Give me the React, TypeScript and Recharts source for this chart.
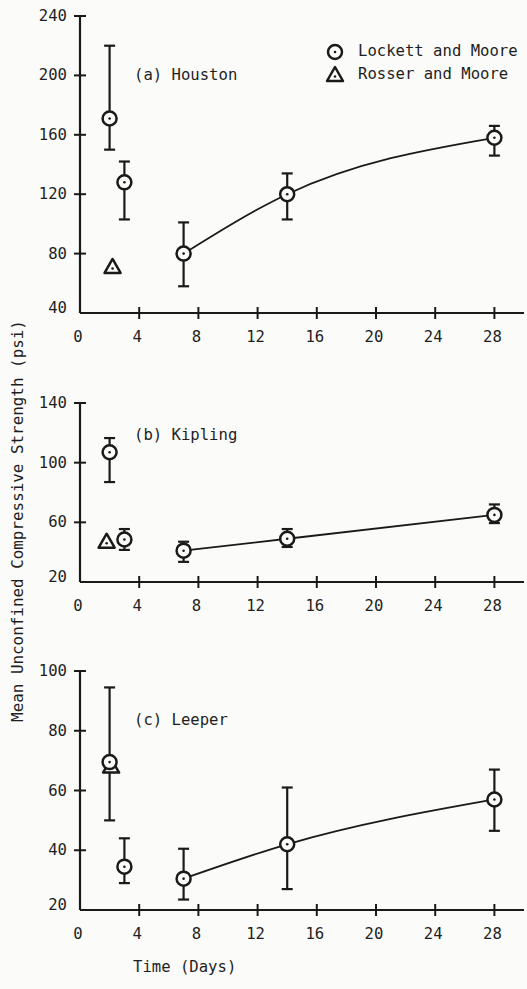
import React from 'react';
import { ComposedChart, Scatter, Line, XAxis, YAxis, ErrorBar, Legend } from 'recharts';

// sampling days (Lockett and Moore)
const days = [2, 3, 7, 14, 28];
const dayTicks = [0, 4, 8, 12, 16, 20, 24, 28];

// (a) Houston
const houstonMean = [171, 128, 80, 120, 158];
const houstonLow = [150, 103, 58, 103, 146];
const houstonHigh = [220, 142, 101, 134, 166];
const houstonTicks = [40, 80, 120, 160, 200, 240];

// (b) Kipling
const kiplingMean = [107, 48.5, 41, 49, 65];
const kiplingLow = [87, 41.5, 33.5, 43.5, 59.5];
const kiplingHigh = [116.5, 55.5, 47, 55.5, 72];
const kiplingTicks = [20, 60, 100, 140];

// (c) Leeper
const leeperMean = [69.5, 34.5, 30.5, 42, 57];
const leeperLow = [50, 29, 23.5, 27, 46.5];
const leeperHigh = [94.5, 44, 40.5, 61, 67];
const leeperTicks = [20, 40, 60, 80, 100];

// Rosser and Moore (one point per soil)
const rosserDays = [2.2, 1.8, 2.1];
const rosserValues = [71, 47, 68];

const INK = '#1a1a1a';
const TEXT = '#1e1e1e';
const PAPER = '#fbfbf9';
const FONT = '"DejaVu Sans Mono", "Liberation Mono", monospace';
const FS = 15.6;

const buildPoints = (mean: number[], low: number[], high: number[]) =>
  days.map((d, i) => ({ x: d, y: mean[i], err: [mean[i] - low[i], high[i] - mean[i]] }));

const CircleMark = (props: any) => {
  const { cx, cy } = props;
  if (cx == null || cy == null) return null;
  return (
    <g>
      <circle cx={cx} cy={cy} r={7} fill={PAPER} stroke={INK} strokeWidth={2.5} />
      <circle cx={cx} cy={cy} r={1.3} fill={INK} />
    </g>
  );
};

const TriangleMark = (props: any) => {
  const { cx, cy } = props;
  if (cx == null || cy == null) return null;
  return (
    <g>
      <path d={`M${cx},${cy - 8} L${cx + 8},${cy + 6} L${cx - 8},${cy + 6} Z`} fill={PAPER} stroke={INK} strokeWidth={2.5} strokeLinejoin="round" />
      <circle cx={cx} cy={cy + 1.5} r={1.3} fill={INK} />
    </g>
  );
};

const makeYTick = (corner: number) => (props: any) => {
  const { x, y, payload } = props;
  return (
    <g>
      {payload.value !== corner && <line x1={x - 6} x2={x + 6} y1={y} y2={y} stroke={INK} strokeWidth={2} />}
      <text x={x - 13} y={payload.value === corner ? y - 5 : y} textAnchor="end" dominantBaseline="central"
        fill={TEXT} fontFamily={FONT} fontSize={FS}>{payload.value}</text>
    </g>
  );
};

const XTick = (props: any) => {
  const { x, y, payload } = props;
  return (
    <g>
      {payload.value !== 0 && <line x1={x} x2={x} y1={y - 6} y2={y + 6} stroke={INK} strokeWidth={2} />}
      <text x={x - 2} y={y + 24} textAnchor="middle" dominantBaseline="central"
        fill={TEXT} fontFamily={FONT} fontSize={FS}>{payload.value}</text>
    </g>
  );
};

const LegendBox = () => (
  <div style={{ fontFamily: FONT, fontSize: FS, color: TEXT, lineHeight: '23px' }}>
    {[{ name: 'Lockett and Moore', Mark: CircleMark }, { name: 'Rosser and Moore', Mark: TriangleMark }].map(({ name, Mark }) => (
      <div key={name} style={{ display: 'flex', alignItems: 'center', whiteSpace: 'nowrap' }}>
        <svg width={22} height={20} style={{ marginRight: 12 }}>
          <Mark cx={11} cy={10} />
        </svg>
        {name}
      </div>
    ))}
  </div>
);

type PanelProps = {
  mean: number[]; low: number[]; high: number[];
  rosser: number; rosserDay: number;
  ticks: number[]; top: number; height: number; marginTop: number;
  curve: 'monotone' | 'linear'; label: string; labelTop: number; showLegend?: boolean;
};

const Panel = ({ mean, low, high, rosser, rosserDay, ticks, top, height, marginTop, curve, label, labelTop, showLegend }: PanelProps) => {
  const points = buildPoints(mean, low, high);
  const trend = points.slice(2);
  const rosserPts = [{ x: rosserDay, y: rosser }];
  const yDomain = [ticks[0], ticks[ticks.length - 1]];
  return (
    <div style={{ position: 'absolute', left: 0, top, width: 527, height }}>
      <ComposedChart width={527} height={height} margin={{ top: marginTop, right: 3, bottom: 2, left: 20 }}>
        <XAxis type="number" dataKey="x" domain={[0, 30]} ticks={dayTicks} allowDataOverflow
          tickLine={false} tickSize={0} tickMargin={0} height={30} interval={0}
          axisLine={{ stroke: INK, strokeWidth: 2.2 }} tick={<XTick />} />
        <YAxis type="number" dataKey="y" domain={yDomain} ticks={ticks} allowDataOverflow
          tickLine={false} tickSize={0} tickMargin={0} width={60} interval={0}
          axisLine={{ stroke: INK, strokeWidth: 2.2 }} tick={makeYTick(ticks[0])} />
        <Line data={trend} dataKey="y" type={curve} stroke={INK} strokeWidth={1.8} dot={false}
          activeDot={false} isAnimationActive={false} legendType="none" />
        <Scatter data={rosserPts} name="Rosser and Moore" shape={TriangleMark} isAnimationActive={false} />
        <Scatter data={points} name="Lockett and Moore" shape={CircleMark} isAnimationActive={false}>
          <ErrorBar dataKey="err" direction="y" width={5.5} stroke={INK} strokeWidth={2.2} isAnimationActive={false} />
        </Scatter>
        {showLegend && (
          <Legend layout="vertical" align="center" verticalAlign="middle"
            wrapperStyle={{ top: 40, left: 324, width: 203 }} content={() => <LegendBox />} />
        )}
      </ComposedChart>
      <div style={{ position: 'absolute', left: 134, top: labelTop,
        fontFamily: FONT, fontSize: FS, color: TEXT, whiteSpace: 'nowrap', lineHeight: '18px' }}>{label}</div>
    </div>
  );
};

export default function App() {
  return (
    <div style={{ position: 'absolute', left: 0, top: 0, width: 527, height: 989, background: PAPER, overflow: 'hidden' }}>
      <Panel mean={houstonMean} low={houstonLow} high={houstonHigh} rosser={rosserValues[0]} rosserDay={rosserDays[0]}
        ticks={houstonTicks} top={0} height={345} marginTop={16} curve="monotone" label="(a) Houston" labelTop={66} showLegend />
      <Panel mean={kiplingMean} low={kiplingLow} high={kiplingHigh} rosser={rosserValues[1]} rosserDay={rosserDays[1]}
        ticks={kiplingTicks} top={360} height={254} marginTop={43} curve="linear" label="(b) Kipling" labelTop={66} />
      <Panel mean={leeperMean} low={leeperLow} high={leeperHigh} rosser={rosserValues[2]} rosserDay={rosserDays[2]}
        ticks={leeperTicks} top={640} height={302} marginTop={31} curve="monotone" label="(c) Leeper" labelTop={71} />
      <div style={{ position: 'absolute', left: 17, top: 521, transform: 'translate(-50%, -50%) rotate(-90deg)',
        fontFamily: FONT, fontSize: 15.9, color: TEXT, whiteSpace: 'nowrap' }}>
        Mean Unconfined Compressive Strength (psi)
      </div>
      <div style={{ position: 'absolute', left: 133, top: 958, fontFamily: FONT, fontSize: FS, color: TEXT, whiteSpace: 'nowrap' }}>
        Time (Days)
      </div>
    </div>
  );
}
